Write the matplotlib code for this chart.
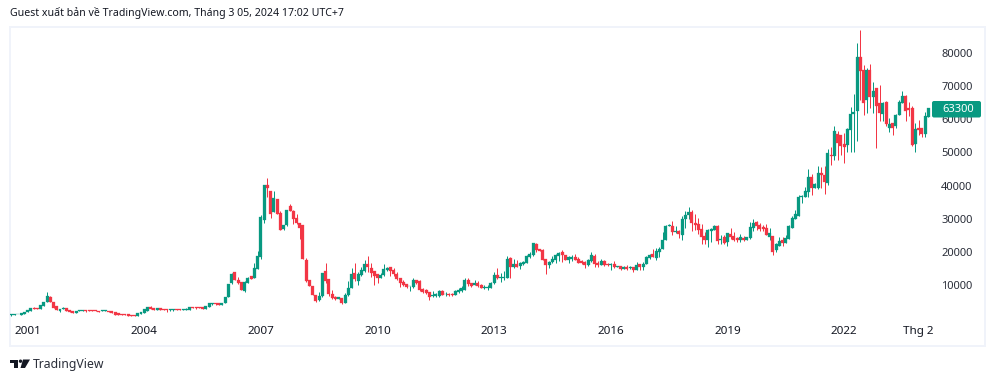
import matplotlib
matplotlib.use("Agg")
import matplotlib.pyplot as plt
from matplotlib.patches import Polygon, FancyBboxPatch, Circle
import numpy as np

W, H = 996, 382
GREEN = "#089981"
RED = "#F23645"
TEXT = "#131722"
BORDER = "#F0F3FA"

# monthly candles, July 2000 to March 2024
opens = [
    1000,1150,1150,1250,1050,1350,1950,2250,3150,3150,
    2850,3750,4950,6500,4950,3750,2250,2850,3150,2550,
    2250,1650,2150,2350,2550,2550,2550,2550,2350,2250,
    2250,2350,2150,1850,1650,1250,1350,1350,950,950,
    750,1350,1650,2250,3450,3150,2550,3150,2850,2850,
    2550,2550,2850,2850,2550,2550,2550,3450,3450,3450,
    3450,2850,3450,4350,4650,4650,4050,4650,6500,10700,
    14000,11600,11000,8300,10700,12800,12300,15000,18400,29650,
    40200,38400,32100,36000,31700,26850,28150,33900,32400,30250,
    28650,28150,17600,11600,9800,7100,5550,6850,14300,11900,
    7300,6550,5950,6200,4550,7100,9200,13700,11300,13100,
    14300,16400,15200,14300,13400,12200,13100,14600,15500,14600,
    13400,12200,11000,10400,9700,9500,11600,11300,8900,8600,
    8000,6800,6800,6800,8300,7250,7400,7400,7100,8000,
    8300,8600,11600,10700,10100,10700,10100,9300,9300,9200,
    10700,13100,12300,12300,12200,18200,15500,16400,15800,16400,
    16700,18500,19100,22400,20900,20650,17900,16200,17000,17600,
    18800,20000,19100,17600,17800,18500,17900,17300,17000,16100,
    17300,18800,16800,16100,17300,16400,16200,16400,15500,15800,
    15000,15500,15100,15500,14600,16400,15500,16400,18200,19400,
    18200,20000,20900,23600,27850,27850,26050,26350,25150,29950,
    31150,32100,28750,28450,26950,24850,23650,26350,26650,27850,
    23650,24550,23050,25450,24850,24250,23650,24250,23650,24250,
    27250,29050,28150,27550,27250,24550,24850,20650,21850,23650,
    22750,23950,27250,29950,30850,36700,36700,38000,42700,39400,
    39400,43700,43200,40900,49250,48950,55550,55250,52550,52250,
    56800,61600,62600,78750,74850,65800,74850,66600,69350,64800,
    61600,65300,57500,58900,58000,61300,65000,67000,63400,63400,
    52550,57300,57300,55550,60800,
]
closes = [
    1050,1350,1350,1350,1650,1950,2550,3150,2850,2850,
    4050,4950,6800,4950,3150,2550,2850,3150,2250,1950,
    1650,2250,2550,2550,2250,2250,2250,2150,2050,2550,
    2550,1950,1650,1050,1050,1050,1150,850,750,750,
    1650,1950,2850,3450,2850,2550,3150,2550,2550,2550,
    2750,2750,2550,2550,2850,2950,3450,3150,3150,3150,
    2850,3750,4650,4650,4350,4050,4650,6500,10400,13400,
    11600,10700,8600,11000,12200,12000,15100,18800,30650,40200,
    39200,31600,36300,31600,26650,28150,32700,32300,30050,28650,
    27250,18000,11300,9800,7100,5250,6800,13700,11400,7400,
    6200,5850,6450,4550,6950,9200,13400,11800,13400,14600,
    16400,15500,13700,12900,12200,13100,14900,15200,14300,13400,
    11900,10700,10100,9500,9800,11600,10700,8600,8000,7700,
    6500,7100,7400,8300,7100,7400,7100,7100,8300,8600,
    9200,11600,10400,9800,10700,9800,9200,9500,9500,10700,
    13100,12300,12400,12500,17900,15500,16400,15500,16700,17000,
    18800,19400,22700,20600,20300,17600,16100,17100,17900,19100,
    19800,19100,17600,18500,18500,17600,16700,16700,16100,17600,
    19100,16400,16200,17300,16100,16000,16400,15500,15700,15000,
    15600,15000,15500,14600,16100,15400,16500,18500,19100,18500,
    20300,20900,23600,27850,28150,26050,26250,25450,29950,31150,
    32100,28750,28150,26650,24550,23650,26650,26950,27850,23350,
    23850,22750,25650,24550,23650,23650,24550,23650,24550,27550,
    28750,27850,26950,26950,25150,25750,20000,22450,23350,22750,
    24250,27850,30250,31450,36600,36900,38400,42700,39400,40600,
    43700,43200,41200,49750,49050,56500,52750,51950,51750,57100,
    61600,62200,78750,74550,65000,74850,66600,68500,64000,62000,
    64800,58600,58600,57500,61300,65300,67000,62600,62800,52250,
    57100,56900,55550,61000,63300,
]
highs = [
    1050,1350,1350,1350,1650,1950,2550,3150,3450,3150,
    4050,4950,8000,6800,4950,3750,2850,3450,3150,2550,
    2250,2250,2550,2550,2550,2550,2550,2550,2350,2650,
    2550,2350,2150,1850,1650,1250,1350,1350,950,950,
    1650,1950,2850,3550,3750,3150,3150,3150,2850,2850,
    2750,2750,2850,2850,2850,3150,3450,3450,3450,3450,
    3450,3750,4650,4650,4650,4650,4650,6500,10400,13700,
    14000,12500,11000,11300,12500,12950,16700,20350,31150,40200,
    42200,38400,38400,36000,32300,28150,32700,34500,32700,31500,
    28650,28150,18100,11600,9800,7100,8000,13700,16700,11900,
    8600,6800,6450,6200,7700,11300,15200,16700,14000,15500,
    17600,18800,16600,14300,13400,13800,16400,15500,15500,15200,
    14000,12200,11600,10400,9800,12200,11600,11600,9200,8900,
    8000,8300,7700,8600,8600,8000,7700,7700,8600,9200,
    9800,12200,12200,10700,11600,11300,10400,10100,10100,11000,
    14000,15200,13700,14300,18800,18500,17900,17600,17000,17300,
    19100,20000,22700,22700,20900,20850,17900,17400,18800,19400,
    20100,20600,19100,18800,19100,19400,18600,17600,17300,17900,
    20000,19400,17300,17900,17600,16700,16700,17200,15700,15800,
    15800,16100,15800,15500,17000,16400,17000,18800,19400,20900,
    21200,21500,26050,28150,28450,29350,27850,26650,30900,32400,
    33600,32700,31500,30250,28450,26050,26950,27250,28150,28150,
    25150,25150,25750,27250,26050,24550,25450,24850,24550,29050,
    29950,29350,28750,28150,28450,27250,24850,22750,24550,24550,
    25150,28150,30850,32700,37200,37200,39700,45050,43500,40900,
    45950,45750,46050,50950,51650,58000,56500,55250,55750,57500,
    63800,67600,83100,86900,76350,75350,76650,71350,69550,70350,
    65300,65500,60300,58900,61500,65800,68600,67300,65300,64000,
    58800,59800,57300,62300,63400,
]
lows = [
    950,850,1150,1250,1050,1350,1950,2250,2850,2850,
    2850,3750,4950,4950,3150,2550,1950,2850,2250,1950,
    1650,1650,2150,2350,1950,2250,2250,2150,2050,2250,
    2250,1950,1650,1050,1050,1050,1150,850,750,750,
    750,1350,1650,2250,2850,2550,2550,2550,2550,2000,
    2250,2250,2550,2550,2550,2550,2550,3150,2750,3150,
    2850,2750,3450,4050,4050,4050,4050,4650,6500,10400,
    11600,10400,8600,8000,10700,11950,12100,14800,17800,28850,
    36500,30350,32100,31600,26650,26650,27850,32300,28450,28450,
    23950,18000,11000,9800,7100,4950,5250,6550,10800,6800,
    6000,5550,5950,4350,4550,6800,9200,11400,10100,12800,
    14000,14000,12600,10100,10800,12200,12800,14300,12800,12800,
    11600,9500,9800,9200,8300,9200,10400,8300,7700,7400,
    5550,6500,6500,6500,7100,6800,6800,6800,7100,7700,
    8000,8600,9800,9500,10100,9500,9200,8900,8600,9200,
    10400,11900,11000,11600,12200,12200,15200,15500,14900,16100,
    16700,18200,18800,20000,20300,17600,13400,15200,16700,16700,
    17400,17000,17600,16700,17400,17600,16700,16400,15200,15800,
    17000,15500,15500,16100,15900,15800,14600,15300,15500,14600,
    14900,14600,14900,14000,14600,14600,14600,16400,17900,18500,
    17600,18500,20900,23600,27850,25150,25750,24250,23650,27250,
    29950,26350,26650,25450,22450,22450,21550,23050,26650,22450,
    22450,22450,21850,23950,23350,23050,23050,23350,23650,23950,
    26350,26650,26350,26350,25150,23650,19100,20000,21850,21850,
    22750,23950,27250,29950,30850,34700,36700,36700,37200,39200,
    39000,39200,37500,40200,46250,47750,47750,49250,46950,50250,
    50250,50250,53550,65800,61300,62000,63300,62000,51450,59600,
    59600,58000,56250,55250,57300,61300,64800,59500,61000,51950,
    50250,55250,54550,54750,60800,
]
price_ticks = [10000, 20000, 30000, 40000, 50000, 60000, 70000, 80000]
time_ticks = [6, 42, 78, 114, 150, 186, 222, 258, 281]
time_labels = ["2001", "2004", "2007", "2010", "2013", "2016", "2019", "2022", "Thg 2"]
last_price = "63300"
header = "Guest xuất bản về TradingView.com, Tháng 3 05, 2024 17:02 UTC+7"


def fx(px):
    return px / W


def fy(py):
    return 1 - py / H


def logo_points(points):
    return [(px, H - py) for px, py in points]


plt.rcParams["font.family"] = ["Noto Sans", "DejaVu Sans"]

fig = plt.figure(figsize=(W / 100, H / 100), dpi=100, facecolor="white")
ax = fig.add_axes([fx(10), fy(346), fx(975), 319 / H])
ax.set_facecolor("white")

o = np.array(opens)
c = np.array(closes)
h = np.array(highs)
l = np.array(lows)
x = np.arange(len(o))
colors = np.where(c >= o, GREEN, RED)

ax.vlines(x, l, h, colors=colors, linewidth=0.72, zorder=2)
ax.bar(x, np.abs(c - o), bottom=np.minimum(o, c), width=0.92, color=colors,
       edgecolor=colors, linewidth=0.2, zorder=3)

ax.set_xlim(0.57, 301.5)
ax.set_ylim(-8283, 87800)

for side in ax.spines:
    ax.spines[side].set_color(BORDER)
    ax.spines[side].set_linewidth(1.44)

ax.set_xticks(time_ticks)
ax.set_xticklabels(time_labels, fontsize=8.4, color=TEXT)
ax.tick_params(axis="x", length=0, pad=-14.5)
ax.yaxis.tick_right()
ax.set_yticks(price_ticks)
ax.set_yticklabels([str(v) for v in price_ticks], fontsize=8.0, color="#2A2E39")
ax.tick_params(axis="y", length=0, pad=-31.5)

# pixel coordinates from the bottom left corner, for the tag and the logo
px_trans = matplotlib.transforms.IdentityTransform()

# last price tag
fig.add_artist(FancyBboxPatch((933, H - 116.5), 47, 14.5, boxstyle="round,pad=1,rounding_size=2",
                              transform=px_trans, facecolor=GREEN, edgecolor="none", zorder=5))
fig.text(fx(958), fy(109.3), last_price, color="white", fontsize=8.0,
         ha="center", va="center", zorder=6)

fig.text(fx(10), fy(13), header, color=TEXT, fontsize=7.6, ha="left", va="center")

# TradingView mark and name
mark = "#131722"
fig.add_artist(Polygon(logo_points([(10, 359.5), (18, 359.5), (18, 368), (14, 368), (14, 363), (10, 363)]),
                       transform=px_trans, facecolor=mark, edgecolor="none"))
fig.add_artist(Polygon(logo_points([(23, 359.5), (30, 359.5), (25, 368), (20.5, 368)]),
                       transform=px_trans, facecolor=mark, edgecolor="none"))
fig.add_artist(Circle((20.5, H - 361.2), 1.7, transform=px_trans,
                      facecolor=mark, edgecolor="none"))
fig.text(fx(33), fy(364.5), "TradingView", color="#2A2E39", fontsize=8.8, ha="left", va="center")

fig.savefig("out.png", dpi=100, facecolor="white")
